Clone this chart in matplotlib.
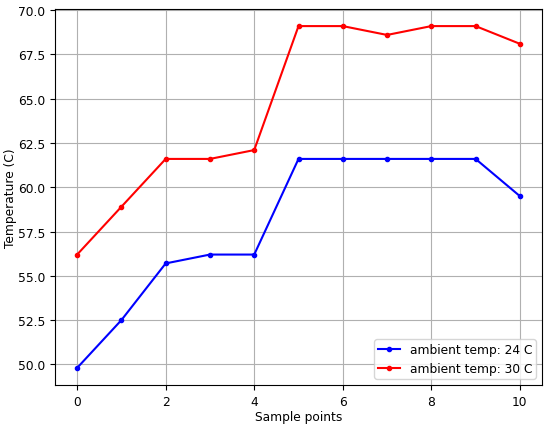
import matplotlib
matplotlib.use("Agg")
import matplotlib.pyplot as plt

plt.rcParams["font.size"] = 8.8

samples = list(range(11))
temp_24 = [49.8, 52.5, 55.7, 56.2, 56.2, 61.6, 61.6, 61.6, 61.6, 61.6, 59.5]
temp_30 = [56.2, 58.9, 61.6, 61.6, 62.1, 69.1, 69.1, 68.6, 69.1, 69.1, 68.1]
labels = ["ambient temp: 24 C", "ambient temp: 30 C"]

fig, ax = plt.subplots(figsize=(5.5, 4.31), dpi=100)
fig.subplots_adjust(left=55/550, right=542/550, top=1-10/431, bottom=1-386/431)
ax.plot(samples, temp_24, color="blue", marker=".", label=labels[0])
ax.plot(samples, temp_30, color="red", marker=".", label=labels[1])
ax.set_xlabel("Sample points", labelpad=2)
ax.set_ylabel("Temperature (C)", labelpad=1)
ax.grid(True)
ax.legend(loc="lower right", borderpad=0.3, handlelength=1.8)
fig.savefig("out.png")
